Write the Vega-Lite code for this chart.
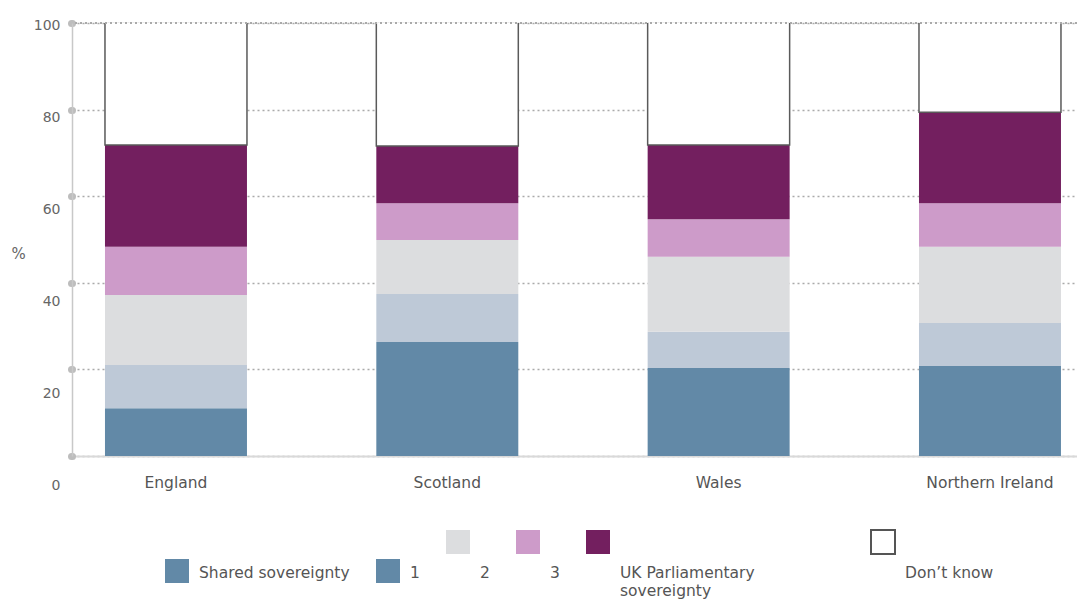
{
  "$schema": "https://vega.github.io/schema/vega-lite/v6.json",
  "width": 1005,
  "height": 433,
  "autosize": {"type": "none"},
  "padding": {"left": 72, "top": 23, "right": 0, "bottom": 143},
  "background": "white",
  "config": {"view": {"stroke": null}, "font": "DejaVu Sans"},
  "data": {
    "values": [
      {"country": "England", "response": "Shared sovereignty", "percent": 11.0},
      {"country": "England", "response": "1", "percent": 10.0},
      {"country": "England", "response": "2", "percent": 16.2},
      {"country": "England", "response": "3", "percent": 11.1},
      {"country": "England", "response": "UK Parliamentary sovereignty", "percent": 23.5},
      {"country": "England", "response": "Don’t know", "percent": 28.2},
      {"country": "Scotland", "response": "Shared sovereignty", "percent": 26.3},
      {"country": "Scotland", "response": "1", "percent": 11.1},
      {"country": "Scotland", "response": "2", "percent": 12.5},
      {"country": "Scotland", "response": "3", "percent": 8.5},
      {"country": "Scotland", "response": "UK Parliamentary sovereignty", "percent": 13.2},
      {"country": "Scotland", "response": "Don’t know", "percent": 28.4},
      {"country": "Wales", "response": "Shared sovereignty", "percent": 20.3},
      {"country": "Wales", "response": "1", "percent": 8.4},
      {"country": "Wales", "response": "2", "percent": 17.3},
      {"country": "Wales", "response": "3", "percent": 8.7},
      {"country": "Wales", "response": "UK Parliamentary sovereignty", "percent": 17.1},
      {"country": "Wales", "response": "Don’t know", "percent": 28.2},
      {"country": "Northern Ireland", "response": "Shared sovereignty", "percent": 20.8},
      {"country": "Northern Ireland", "response": "1", "percent": 9.9},
      {"country": "Northern Ireland", "response": "2", "percent": 17.6},
      {"country": "Northern Ireland", "response": "3", "percent": 10.1},
      {"country": "Northern Ireland", "response": "UK Parliamentary sovereignty", "percent": 21.0},
      {"country": "Northern Ireland", "response": "Don’t know", "percent": 20.6}
    ]
  },
  "transform": [
    {"calculate": "indexof(['Shared sovereignty', '1', '2', '3', 'UK Parliamentary sovereignty', 'Don’t know'], datum.response)", "as": "stackRank"}
  ],
  "layer": [
    {
      "mark": {"type": "bar", "strokeWidth": 1.5, "strokeDash": [0, 142, 2000, 0]},
      "encoding": {
        "x": {
          "field": "country",
          "type": "nominal",
          "sort": ["England", "Scotland", "Wales", "Northern Ireland"],
          "scale": {"paddingInner": 0.4767, "paddingOuter": 0.0903, "align": 0.673},
          "axis": {
            "title": null,
            "labelAngle": 0,
            "labelFontSize": 15.5,
            "labelColor": "#555555",
            "labelPadding": 19,
            "ticks": false,
            "tickSize": 0,
            "domainColor": "#d9d9d9",
            "domainWidth": 2,
            "grid": false
          }
        },
        "y": {
          "field": "percent",
          "type": "quantitative",
          "stack": "zero",
          "scale": {"domain": [0, 100], "nice": false},
          "axis": {
            "values": [0, 20, 40, 60, 80, 100],
            "title": "%",
            "titleAngle": 0,
            "titleX": -54,
            "titleY": 230,
            "titleAlign": "center",
            "titleBaseline": "middle",
            "titleFontSize": 15,
            "titleFontWeight": "normal",
            "titleColor": "#666666",
            "labelFontSize": 14,
            "labelColor": "#666666",
            "labelPadding": 11,
            "labelOffset": {"expr": "2 + (100 - datum.value) * 0.27"},
            "domainColor": "#c8c8c8",
            "domainWidth": 1.5,
            "tickColor": "#bdbdbd",
            "tickWidth": 7,
            "tickSize": 1,
            "tickCap": "round",
            "gridColor": "#aaaaaa",
            "gridDash": [2, 3],
            "gridWidth": 1.5
          }
        },
        "order": {"field": "stackRank", "type": "quantitative"},
        "color": {
          "field": "response",
          "type": "nominal",
          "sort": ["Shared sovereignty", "1", "2", "3", "UK Parliamentary sovereignty", "Don’t know"],
          "scale": {
            "domain": ["Shared sovereignty", "1", "2", "3", "UK Parliamentary sovereignty", "Don’t know"],
            "range": ["#6289a7", "#bec9d7", "#dcdddf", "#cd9bc9", "#731f5f", "#ffffff"]
          },
          "legend": null
        },
        "stroke": {
          "condition": {"test": "datum.response === 'Don’t know'", "value": "#5a5a5a"},
          "value": "transparent"
        }
      }
    },
    {
      "mark": {"type": "rule", "stroke": "#aaaaaa", "strokeWidth": 1.5, "strokeDash": [2, 3]},
      "encoding": {"y": {"datum": 100, "type": "quantitative"}}
    },
    {
      "mark": {"type": "point", "filled": true, "size": 0},
      "encoding": {
        "x": {"field": "country", "type": "nominal", "sort": ["England", "Scotland", "Wales", "Northern Ireland"]},
        "y": {"field": "percent", "type": "quantitative"},
        "fill": {"field": "country", "type": "nominal", "legend": null},
        "shape": {
          "field": "response",
          "type": "nominal",
          "sort": ["Shared sovereignty", "1", "2", "3", "UK Parliamentary sovereignty", "Don’t know"],
          "scale": {
            "range": [
              "M-1,-3.6M-1,-1.2H1V0.8H-1ZM-1,3.2",
              "M-1,-3.6M-1,-1.2H1V0.8H-1ZM-1,3.2",
              "M-1,-3.6H1V-1.6H-1ZM-1,3.2",
              "M-1,-3.6H1V-1.6H-1ZM-1,3.2",
              "M-1,-3.6H1V-1.6H-1ZM20.2,3.2",
              "M-1,-3.6H1V-1.6H-1ZM-1,3.2"
            ]
          },
          "legend": {
            "title": null,
            "orient": "none",
            "legendX": 92,
            "legendY": 537,
            "direction": "horizontal",
            "columns": 6,
            "columnPadding": 22,
            "padding": 0,
            "symbolSize": 576,
            "symbolOpacity": 1,
            "symbolFillColor": {"expr": "['#6289a7', '#6289a7', '#dcdddf', '#cd9bc9', '#731f5f', '#ffffff'][datum.index]"},
            "symbolStrokeColor": {"expr": "datum.index == 5 ? '#555555' : 'transparent'"},
            "symbolStrokeWidth": 2,
            "labelOffset": 9,
            "labelFont": "DejaVu Sans",
            "labelFontSize": 15.5,
            "labelColor": "#555555",
            "labelLimit": 0,
            "labelExpr": "datum.index == 4 ? ['UK Parliamentary', 'sovereignty'] : datum.label"
          }
        }
      }
    }
  ]
}
